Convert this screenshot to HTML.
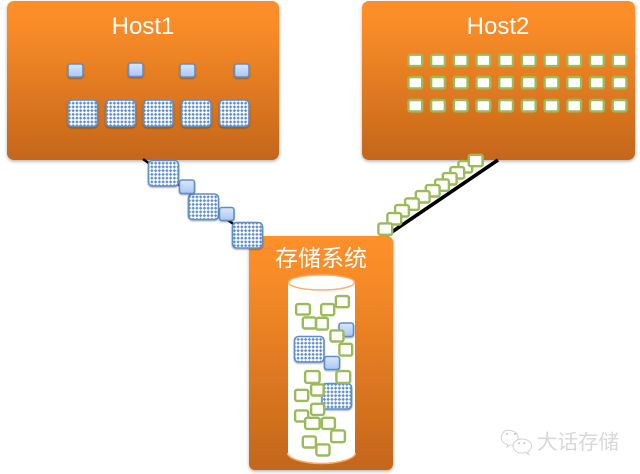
<!DOCTYPE html>
<html>
<head>
<meta charset="utf-8">
<style>
html,body{margin:0;padding:0;background:#fff;width:640px;height:474px;overflow:hidden}
svg{display:block}
text{font-family:"Liberation Sans","Noto Sans CJK SC",sans-serif}
.s{fill:url(#sb);stroke:#5f8fc4;stroke-width:1.6;filter:url(#sh)}
.l{fill:url(#pt);stroke:#5f8fc4;stroke-width:1.6;filter:url(#sh)}
.g{fill:#fff;stroke:#9bbb59;stroke-width:2.4}
</style>
</head>
<body>
<svg width="640" height="474" viewBox="0 0 640 474" xmlns="http://www.w3.org/2000/svg">
<defs>
<linearGradient id="o" x1="0" y1="0" x2="0" y2="1">
<stop offset="0" stop-color="#fd9029"/><stop offset=".15" stop-color="#f98c28"/><stop offset="1" stop-color="#c4661a"/>
</linearGradient>
<linearGradient id="sb" x1="0" y1="0" x2="0" y2="1">
<stop offset="0" stop-color="#dbe7fb"/><stop offset="1" stop-color="#a9c6f5"/>
</linearGradient>
<pattern id="pt" width="3.75" height="3.75" patternUnits="userSpaceOnUse">
<rect width="3.75" height="3.75" fill="#fff"/>
<path d="M1.9 0.2L3.6 1.9L1.9 3.6L0.2 1.9Z" fill="#5b8cc8"/>
</pattern>
<filter id="bs" x="-5%" y="-5%" width="110%" height="110%">
<feDropShadow dx="0" dy="1.5" stdDeviation="1.5" flood-color="#000" flood-opacity=".3"/>
</filter>
<filter id="sh" x="-20%" y="-20%" width="140%" height="140%">
<feDropShadow dx="0" dy="1" stdDeviation=".8" flood-color="#000" flood-opacity=".35"/>
</filter>
</defs>

<!-- hosts -->
<rect x="7" y="1" width="272" height="159" rx="7" fill="url(#o)" filter="url(#bs)"/>
<rect x="362" y="1" width="273" height="159" rx="7" fill="url(#o)" filter="url(#bs)"/>
<text x="143" y="34" font-size="24" fill="#fff" text-anchor="middle">Host1</text>
<text x="498" y="34" font-size="24" fill="#fff" text-anchor="middle">Host2</text>

<!-- Host1 contents -->
<rect class="s" x="68" y="64" width="15" height="13" rx="2.5"/>
<rect class="s" x="128.500" y="63" width="14.500" height="13.500" rx="2.500"/>
<rect class="s" x="180" y="64" width="15" height="13" rx="2.5"/>
<rect class="s" x="234.500" y="64" width="14.500" height="13" rx="2.500"/>
<rect class="l" x="68" y="100" width="29.500" height="26.500" rx="4"/>
<rect class="l" x="106" y="100" width="29.500" height="26.500" rx="4"/>
<rect class="l" x="143.500" y="100" width="29.500" height="26.500" rx="4"/>
<rect class="l" x="181.500" y="100" width="29.500" height="26.500" rx="4"/>
<rect class="l" x="219.500" y="100" width="29.500" height="26.500" rx="4"/>

<!-- Host2 contents -->
<g>
<rect class="g" x="408.400" y="54.700" width="13.800" height="11.400" rx="2"/><rect class="g" x="431.100" y="54.700" width="13.800" height="11.400" rx="2"/><rect class="g" x="453.800" y="54.700" width="13.800" height="11.400" rx="2"/><rect class="g" x="476.500" y="54.700" width="13.800" height="11.400" rx="2"/><rect class="g" x="499.200" y="54.700" width="13.800" height="11.400" rx="2"/><rect class="g" x="521.900" y="54.700" width="13.800" height="11.400" rx="2"/><rect class="g" x="544.600" y="54.700" width="13.800" height="11.400" rx="2"/><rect class="g" x="567.300" y="54.700" width="13.800" height="11.400" rx="2"/><rect class="g" x="590" y="54.700" width="13.800" height="11.400" rx="2"/><rect class="g" x="612.700" y="54.700" width="13.800" height="11.400" rx="2"/>
<rect class="g" x="408.400" y="77" width="13.800" height="11.400" rx="2"/><rect class="g" x="431.100" y="77" width="13.800" height="11.400" rx="2"/><rect class="g" x="453.800" y="77" width="13.800" height="11.400" rx="2"/><rect class="g" x="476.500" y="77" width="13.800" height="11.400" rx="2"/><rect class="g" x="499.200" y="77" width="13.800" height="11.400" rx="2"/><rect class="g" x="521.900" y="77" width="13.800" height="11.400" rx="2"/><rect class="g" x="544.600" y="77" width="13.800" height="11.400" rx="2"/><rect class="g" x="567.300" y="77" width="13.800" height="11.400" rx="2"/><rect class="g" x="590" y="77" width="13.800" height="11.400" rx="2"/><rect class="g" x="612.700" y="77" width="13.800" height="11.400" rx="2"/>
<rect class="g" x="408.400" y="100" width="13.800" height="11.400" rx="2"/><rect class="g" x="431.100" y="100" width="13.800" height="11.400" rx="2"/><rect class="g" x="453.800" y="100" width="13.800" height="11.400" rx="2"/><rect class="g" x="476.500" y="100" width="13.800" height="11.400" rx="2"/><rect class="g" x="499.200" y="100" width="13.800" height="11.400" rx="2"/><rect class="g" x="521.900" y="100" width="13.800" height="11.400" rx="2"/><rect class="g" x="544.600" y="100" width="13.800" height="11.400" rx="2"/><rect class="g" x="567.300" y="100" width="13.800" height="11.400" rx="2"/><rect class="g" x="590" y="100" width="13.800" height="11.400" rx="2"/><rect class="g" x="612.700" y="100" width="13.800" height="11.400" rx="2"/>
</g>

<!-- connectors -->
<line x1="143" y1="159" x2="250" y2="236" stroke="#000" stroke-width="2.500"/>
<line x1="498" y1="160" x2="386" y2="236" stroke="#000" stroke-width="3.600"/>

<!-- storage -->
<rect x="249" y="236" width="144" height="234" rx="6" fill="url(#o)" filter="url(#bs)"/>
<text x="321" y="266" font-size="23" fill="#fff" text-anchor="middle">存储系统</text>

<!-- Host1 to storage chain -->
<rect class="l" x="148.500" y="160.500" width="30" height="25.500" rx="4"/>
<rect class="l" x="188.500" y="194" width="30" height="25.500" rx="4"/>
<rect class="l" x="232.500" y="222.500" width="30" height="25.500" rx="4"/>
<rect class="s" x="179.500" y="180" width="15" height="13.500" rx="2.500"/>
<rect class="s" x="219.500" y="207.500" width="14.500" height="13" rx="2.500"/>

<!-- Host2 to storage chain -->
<g>
<rect class="g" x="458.400" y="161.100" width="13.800" height="11.400" rx="2"/>
<rect class="g" x="450.400" y="167.100" width="13.800" height="11.400" rx="2"/>
<rect class="g" x="442.800" y="173.100" width="13.800" height="11.400" rx="2"/>
<rect class="g" x="435.100" y="179.400" width="13.800" height="11.400" rx="2"/>
<rect class="g" x="425.800" y="185.100" width="13.800" height="11.400" rx="2"/>
<rect class="g" x="415.800" y="191.100" width="13.800" height="11.400" rx="2"/>
<rect class="g" x="405.100" y="198.400" width="13.800" height="11.400" rx="2"/>
<rect class="g" x="395.100" y="205.100" width="13.800" height="11.400" rx="2"/>
<rect class="g" x="387.400" y="213.100" width="13.800" height="11.400" rx="2"/>
<rect class="g" x="378.400" y="223.400" width="13.800" height="11.400" rx="2"/>
<rect class="g" x="468.800" y="154.800" width="13.800" height="11.400" rx="2"/>
</g>

<!-- cylinder -->
<path d="M288 283V454C288 459 305 463 321.500 463S355 459 355 454V283Z" fill="#fff"/>
<path d="M287.500 453C288 459 305 463.500 321.500 463.500S355 459 355.500 453" fill="none" stroke="#fcae6b" stroke-width="1.500"/>
<ellipse cx="321.500" cy="282.500" rx="33" ry="7.500" fill="#fff" stroke="#fcae6b" stroke-width="1.500"/>

<!-- items in the cylinder -->
<rect class="s" x="339" y="323" width="14.500" height="13.500" rx="2.500"/>
<rect class="l" x="294.500" y="336.500" width="29.500" height="25.500" rx="4"/>
<rect class="l" x="322" y="383.500" width="29.500" height="25.500" rx="4"/>
<rect class="g" x="296.100" y="304.100" width="13.800" height="10.500" rx="2"/>
<rect class="g" x="335.800" y="296.100" width="13.100" height="11.100" rx="2"/>
<rect class="g" x="321.100" y="304.100" width="13.100" height="11.100" rx="2"/>
<rect class="g" x="316.100" y="317.800" width="11.800" height="11.800" rx="2"/>
<rect class="g" x="302.800" y="317.400" width="13.100" height="11.100" rx="2"/>
<rect class="g" x="330.400" y="330.400" width="13.100" height="11.100" rx="2"/>
<rect class="g" x="339.400" y="343.800" width="12.800" height="11.800" rx="2"/>
<rect class="s" x="324.500" y="356.500" width="15" height="13" rx="2.500"/>
<rect class="g" x="305.100" y="371.100" width="14.500" height="11.800" rx="2"/>
<rect class="g" x="336.400" y="371.100" width="13.800" height="11.800" rx="2"/>
<rect class="g" x="295.100" y="389.800" width="13.100" height="11.100" rx="2"/>
<rect class="g" x="311.100" y="384.400" width="12.500" height="11.100" rx="2"/>
<rect class="g" x="295.100" y="410.400" width="13.100" height="11.100" rx="2"/>
<rect class="g" x="311.100" y="403.800" width="13.100" height="11.100" rx="2"/>
<rect class="g" x="305.100" y="417.800" width="14.500" height="11.100" rx="2"/>
<rect class="g" x="321.800" y="417.800" width="13.100" height="11.100" rx="2"/>
<rect class="g" x="331.100" y="430.400" width="13.800" height="11.800" rx="2"/>
<rect class="g" x="302.800" y="436.400" width="13.100" height="11.100" rx="2"/>
<rect class="g" x="316.400" y="444.400" width="13.100" height="11.100" rx="2"/>

<!-- watermark -->
<g fill="#fff" stroke="#d2d2d2" stroke-width="1">
<path d="M502 436c-1.700 3-3 5-1.800 8c1 2.500 3.500 4 6 4.500l-.7 2.500l3-2c2 .3 4 0 6-.8c2-4 3-7 1-10c-2.500-3.500-10.500-5.500-13.500-2.200Z" transform="translate(1.500 -4)"/>
<path d="M517 441c-4.500-.2-9 2.800-9 7c0 4 4 7 8.500 7c1.500 0 3-.2 4-.7l3 2l-.7-2.500c2.200-1.500 3.700-3.500 3.700-6c0-3.800-4.500-6.800-9.500-6.800Z" transform="translate(5 -2)"/>
</g>
<g fill="#c4c4c4"><circle cx="507" cy="434" r="1"/><circle cx="515" cy="434" r="1"/><circle cx="519" cy="443.300" r="1"/><circle cx="524.300" cy="443.300" r="1"/></g>
<text x="537" y="449" font-size="20.500" fill="#d8d8d8">大话存储</text>
</svg>
</body>
</html>
